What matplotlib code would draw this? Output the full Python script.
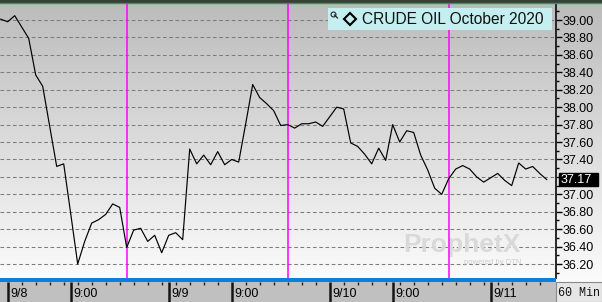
import numpy as np
import matplotlib
matplotlib.use("Agg")
import matplotlib.pyplot as plt
import matplotlib.transforms as mtransforms
from matplotlib.patches import Rectangle
from matplotlib.lines import Line2D
from matplotlib.colors import LinearSegmentedColormap

plt.rcParams['font.family'] = ['Liberation Sans', 'DejaVu Sans']

# hourly closes, CRUDE OIL October 2020 (60 Min bars)
prices = [39.01, 38.98, 39.05, 38.92, 38.79, 38.37, 38.24, 37.78, 37.32, 37.35,
          36.78, 36.20, 36.46, 36.67, 36.71, 36.77, 36.89, 36.85, 36.39, 36.59,
          36.61, 36.46, 36.53, 36.33, 36.53, 36.56, 36.48, 37.52, 37.35, 37.45,
          37.34, 37.49, 37.34, 37.40, 37.37, 37.81, 38.26, 38.11, 38.04, 37.96,
          37.79, 37.80, 37.76, 37.81, 37.81, 37.83, 37.78, 37.89, 38.00, 37.98,
          37.59, 37.55, 37.46, 37.35, 37.53, 37.39, 37.80, 37.60, 37.73, 37.71,
          37.45, 37.28, 37.07, 37.00, 37.18, 37.29, 37.33, 37.29, 37.20, 37.14,
          37.19, 37.24, 37.16, 37.10, 37.36, 37.29, 37.32, 37.24, 37.17]

# bar indices for time axis marks
day_ticks = [1, 24, 47, 70]
day_labels = ['9/8', '9/9', '9/10', '9/11']
hour_ticks = [10, 33, 56]
hour_labels = ['9:00', '9:00', '9:00']
session_lines = [18, 41, 64]

price_ticks = np.round(np.arange(36.2, 39.01, 0.2), 2)
title = 'CRUDE OIL October 2020'
interval = '60 Min'

W, H = 602, 302
fig = plt.figure(figsize=(W / 100, H / 100), dpi=100)
fig.patch.set_facecolor('#c0c0c0')

def box(x0, y0, x1, y1):
    # pixel box (top-left origin) -> figure fraction rect
    return [x0 / W, 1 - y1 / H, (x1 - x0) / W, (y1 - y0) / H]

bg_cmap = LinearSegmentedColormap.from_list('bg', ['#bcbcbc', '#fbfbfb'])
grad = np.linspace(0, 1, 256).reshape(-1, 1)

# right price column background (added first so it sits behind the labels)
ax_r = fig.add_axes(box(556, 4, 602, 282))
ax_r.imshow(grad, aspect='auto', cmap=bg_cmap, extent=[0, 1, 0, 1])
ax_r.axis('off')

ax = fig.add_axes(box(0, 4, 556, 278))
xlim = (-0.1, 79.33)
ylim = (36.04, 39.184)
ax.imshow(grad, aspect='auto', cmap=bg_cmap,
          extent=[xlim[0], xlim[1], ylim[0], ylim[1]], zorder=0)
ax.set_xlim(xlim)
ax.set_ylim(ylim)

for p in price_ticks:
    ax.axhline(p, color='#7c7c7c', lw=0.75, dashes=(3.5, 2.5), zorder=1)

for s in session_lines:
    ax.axvline(s, color='#ff00ff', lw=1.1, zorder=2)

ax.plot(np.arange(len(prices)), prices, color='black', lw=0.85, zorder=3)

# watermark
ax.text(0.831, 0.12, 'ProphetX', transform=ax.transAxes, ha='center', va='center',
        fontsize=19, fontweight='bold', color='#d9d9d9', zorder=1.5)
ax.text(0.887, 0.055, 'powered by DTN', transform=ax.transAxes, ha='center',
        va='center', fontsize=5.5, color='#cccccc', zorder=1.5)

ax.set_xticks([])
ax.yaxis.tick_right()
ax.set_yticks(price_ticks)
ax.set_yticklabels(['' if abs(p - 37.2) < 1e-6 else f'{p:.2f}' for p in price_ticks])
ax.set_yticks(np.round(np.arange(36.1, 39.11, 0.1), 2), minor=True)
ax.tick_params(axis='y', which='major', length=4, width=1, pad=1, labelsize=9,
               colors='black')
ax.tick_params(axis='y', which='minor', length=2.5, width=1, colors='black')
for side in ['left', 'top', 'bottom']:
    ax.spines[side].set_visible(False)
ax.spines['right'].set_color('#1a1a1a')
ax.spines['right'].set_linewidth(1.3)

# last price tag
blend = mtransforms.blended_transform_factory(ax.transAxes, ax.transData)
last = prices[-1]
ax.add_patch(Rectangle((1 + 3 / 556, last - 0.07), 39 / 556, 0.14, transform=blend,
                       facecolor='black', edgecolor='black', clip_on=False, zorder=10))
ax.text(1 + 5 / 556, last, f'{last:.2f}', transform=blend, color='white', fontsize=9,
        va='center', ha='left', clip_on=False, zorder=11)

# time axis
ax_t = fig.add_axes(box(0, 282, 556, 302))
ax_t.set_facecolor('#c0c0c0')
ax_t.set_xlim(xlim)
ax_t.set_ylim(0, 1)
ax_t.set_xticks([])
ax_t.set_yticks([])
for sp in ax_t.spines.values():
    sp.set_visible(False)
major = day_ticks + hour_ticks
minor = [i for i in range(1, len(prices), 2) if i not in major]
ax_t.vlines(minor, 0.84, 1, color='#202020', lw=1)
ax_t.vlines(major, 0, 1, color='#151515', lw=1.8)
for t, lab in zip(day_ticks + hour_ticks, day_labels + hour_labels):
    ax_t.text(t + 0.45, 0.38, lab, fontsize=9, va='center', ha='left', color='black')

# blue band under plot
fig.add_artist(Rectangle(box(0, 278, 556, 282)[:2], 556 / W, 4 / H,
                         transform=fig.transFigure, facecolor='#0a7fdc', edgecolor='none'))

# interval box
fig.add_artist(Rectangle(box(556, 282, 602, 302)[:2], 46 / W, 20 / H,
                         transform=fig.transFigure, facecolor='#e6e6e6',
                         edgecolor='#8a8a8a', lw=0.8))
fig.text(558 / W, 1 - 293 / H, interval, family='Liberation Mono', fontsize=8.5,
         va='center', ha='left', color='#111111')

# top strip
fig.add_artist(Rectangle(box(0, 0, 602, 4)[:2], 1, 4 / H, transform=fig.transFigure,
                         facecolor='#3c3c3c', edgecolor='none'))
fig.add_artist(Line2D([0, 1], [1 - 3 / H, 1 - 3 / H], transform=fig.transFigure,
                      color='#1fa34a', lw=1))

# title legend box
fig.add_artist(Rectangle(box(328, 8, 552, 30)[:2], 224 / W, 22 / H,
                         transform=fig.transFigure, facecolor='#c4eef0', edgecolor='none'))
fig.add_artist(Line2D([333 / W], [1 - 13.5 / H], transform=fig.transFigure, marker='o',
                      ms=3.5, mfc='none', mec='#222222', mew=0.8))
fig.add_artist(Line2D([334.5 / W, 337.5 / W], [1 - 15 / H, 1 - 18 / H],
                      transform=fig.transFigure, color='#222222', lw=0.9))
fig.add_artist(Line2D([350 / W], [1 - 19 / H], transform=fig.transFigure, marker='D',
                      ms=6.5, mfc='none', mec='black', mew=1.5))
fig.text(362 / W, 1 - 19.5 / H, title, fontsize=11.2, va='center', ha='left',
         color='#111111')

fig.savefig('out.png', dpi=100, facecolor=fig.get_facecolor())
